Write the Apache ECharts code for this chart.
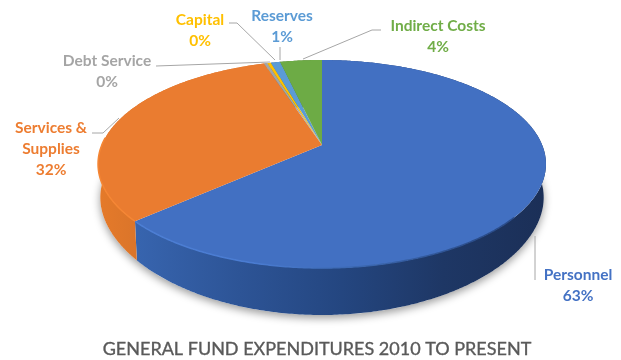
<!DOCTYPE html>
<html>
<head>
<meta charset="utf-8">
<style>html,body{margin:0;padding:0;background:#fff}#chart{width:621px;height:360px}</style>
<script src="https://cdn.jsdelivr.net/npm/echarts@6/dist/echarts.min.js"></script>
</head>
<body>
<div id="chart"></div>
<script>
// General fund expenditure shares, clockwise from twelve o'clock
const categories = ['Personnel', 'Services &\nSupplies', 'Debt Service', 'Capital', 'Reserves', 'Indirect Costs'];
const shares = [63.4, 31.6, 0.3, 0.3, 0.8, 3.6];
const sliceColors = ['#4270c2', '#ea7c30', '#a5a5a5', '#ffc000', '#5b9bd5', '#6dab45'];
const labelColors = ['#4472c4', '#ed7d31', '#a5a5a5', '#ffc000', '#5b9bd5', '#70ad47'];
const chartTitle = 'GENERAL FUND EXPENDITURES 2010 TO PRESENT';

// Label anchors (centre of text block) and their leader lines
const labelAnchors = [[578, 285], [51, 149], [107, 71], [200, 30], [282, 26], [438, 36]];
const leaderLines = [
  [[535, 236], [535, 280]],
  [[92, 133], [103, 133], [119, 118]],
  [[156, 66], [270, 62]],
  [[229, 23], [237, 23], [275, 60]],
  [[280, 47], [280, 60]],
  [[381, 30], [372, 30], [303, 59]]
];

// Perspective disc: maps a point of the unit circle onto the tilted top face
const CX = 322, APEX_Y = 145, TILT = 0.1827, RISE = -74.04, HALF_W = 220.2;
function topPoint(u, v) {
  const d = 1 + TILT * v;
  return [CX + HALF_W * u / d, (RISE * v + APEX_Y) / d];
}
function rimPoint(a) { return topPoint(Math.sin(a), Math.cos(a)); }
function basePoint(a) {
  const p = rimPoint(a), v = Math.cos(a);
  return [CX + (p[0] - CX) * 0.99, p[1] + 33 + 14 * v * v];
}
const total = shares.reduce((s, x) => s + x, 0);
function sliceRange(i) {
  let before = 0;
  for (let k = 0; k < i; k++) before += shares[k];
  return [before / total * 2 * Math.PI, (before + shares[i]) / total * 2 * Math.PI];
}
function arc(fn, a0, a1) {
  const n = Math.max(2, Math.ceil((a1 - a0) / 0.01));
  const pts = [];
  for (let k = 0; k <= n; k++) pts.push(fn(a0 + (a1 - a0) * k / n));
  return pts;
}
function linear(x0, x1, stops) {
  return new echarts.graphic.LinearGradient(x0, 0, x1, 0, stops.map((c, i) => ({ offset: i / (stops.length - 1), color: c })), true);
}
const sideFills = [
  linear(138, 545, ['#3764ae', '#2d5496', '#244680', '#1e3765', '#1b2f57']),
  linear(98, 142, ['#e57a2a', '#d9742a']),
  '#8a8a8a', '#c99700', '#41719c', '#507e32'
];

const option = {
  animation: false,
  title: {
    text: chartTitle,
    left: 312, top: 335, textAlign: 'center',
    textStyle: {
      fontFamily: 'Lato', fontWeight: 'normal', fontSize: 18, color: '#595959',
      textBorderColor: '#595959', textBorderWidth: 0.35
    }
  },
  series: [
    {
      // soft shadow under the drum
      type: 'custom', coordinateSystem: 'none', silent: true,
      data: [0],
      renderItem() {
        return {
          type: 'polygon',
          shape: { points: arc(basePoint, 0, 2 * Math.PI) },
          style: { fill: '#fff', shadowBlur: 9, shadowColor: 'rgba(0,0,0,0.4)', shadowOffsetY: 3 }
        };
      }
    },
    {
      // outer wall of each slice
      type: 'custom', coordinateSystem: 'none', silent: true,
      data: shares.map((v, i) => [i, v]),
      renderItem(params) {
        const [a0, a1] = sliceRange(params.dataIndex);
        const pts = arc(rimPoint, a0, a1).concat(arc(basePoint, a0, a1).reverse());
        return { type: 'polygon', shape: { points: pts }, style: { fill: sideFills[params.dataIndex] } };
      }
    },
    {
      // top face of each slice, its front bevel, label and leader line
      type: 'custom', coordinateSystem: 'none', silent: true,
      data: shares.map((v, i) => [i, v]),
      renderItem(params) {
        const i = params.dataIndex;
        const [a0, a1] = sliceRange(i);
        const apex = topPoint(0, 0);
        const children = [{
          type: 'polygon',
          shape: { points: [apex].concat(arc(rimPoint, a0, a1)) },
          style: { fill: sliceColors[i] }
        }];
        if (i === 0) {
          children.push({
            type: 'polyline',
            shape: { points: arc(rimPoint, Math.PI * 0.72, a1) },
            style: { fill: null, lineWidth: 1.5, stroke: linear(138, 480, ['#4c7ed4', '#4a7cd2', '#3a66ae', '#2a4c8a']) }
          });
        }
        if (i === 1) {
          children.push({
            type: 'polyline',
            shape: { points: arc(rimPoint, a0, a0 + 0.8) },
            style: { fill: null, lineWidth: 1.5, stroke: '#f58634' }
          });
        }
        children.push({
          type: 'polyline',
          shape: { points: leaderLines[i] },
          style: { fill: null, stroke: '#a6a6a6', lineWidth: 1 },
          z2: 5
        });
        children.push({
          type: 'text',
          x: labelAnchors[i][0],
          y: labelAnchors[i][1],
          style: {
            text: categories[i] + '\n' + Math.round(shares[i]) + '%',
            fill: labelColors[i],
            font: 'bold 15.5px Lato',
            lineHeight: 21,
            align: 'center',
            verticalAlign: 'middle'
          },
          z2: 6
        });
        return { type: 'group', children };
      }
    }
  ]
};
echarts.init(document.getElementById('chart'), null, { renderer: 'canvas' }).setOption(option);
</script>
</body>
</html>
